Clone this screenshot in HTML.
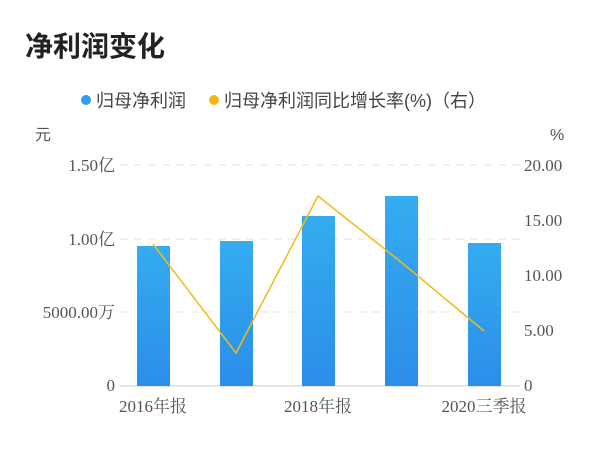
<!DOCTYPE html>
<html><head><meta charset="utf-8"><style>
body{margin:0;background:#fff;width:600px;height:446px;overflow:hidden;font-family:"Liberation Sans","Noto Sans CJK SC",sans-serif;}
</style></head><body>
<svg width="600" height="446" xmlns="http://www.w3.org/2000/svg" font-family="Liberation Sans, Noto Sans CJK SC, sans-serif">
<defs><linearGradient id="g" x1="0" y1="0" x2="0" y2="1"><stop offset="0" stop-color="#34acf0"/><stop offset="1" stop-color="#2b8ee9"/></linearGradient></defs>
<text x="25" y="56" font-size="28" font-weight="bold" fill="#222">净利润变化</text>
<circle cx="86" cy="100" r="5" fill="#2f9ef0"/>
<text x="96" y="107" font-size="18" fill="#444">归母净利润</text>
<circle cx="214" cy="100" r="5" fill="#f5b916"/>
<text x="224" y="107" font-size="18" fill="#444">归母净利润同比增长率(%)（右）</text>
<text x="35" y="140" font-size="16" fill="#555">元</text>
<text x="550" y="140" font-size="16" fill="#555">%</text>
<g stroke="#e6e6e6" stroke-dasharray="8,6" stroke-width="1">
<line x1="120" y1="165" x2="520" y2="165"/><line x1="120" y1="239" x2="520" y2="239"/><line x1="120" y1="312" x2="520" y2="312"/>
</g>
<line x1="120" y1="386" x2="520" y2="386" stroke="#ccc"/>
<g font-size="17" fill="#555" text-anchor="end" font-family="Liberation Serif, Noto Serif CJK SC, serif">
<text x="115" y="171">1.50亿</text><text x="115" y="245">1.00亿</text><text x="115" y="318">5000.00万</text><text x="115" y="391">0</text>
</g>
<g font-size="17" fill="#555" text-anchor="start" font-family="Liberation Serif, serif">
<text x="524" y="171">20.00</text><text x="524" y="226">15.00</text><text x="524" y="281">10.00</text><text x="524" y="336">5.00</text><text x="524" y="391">0</text>
</g>
<g fill="url(#g)">
<rect x="137" y="246" width="33" height="140"/><rect x="220" y="241" width="33" height="145"/><rect x="302" y="216" width="33" height="170"/><rect x="385" y="196" width="33" height="190"/><rect x="468" y="243" width="33" height="143"/>
</g>
<polyline points="153,244 236,353 318,196 401,262 484,331" fill="none" stroke="#f5b916" stroke-width="1.5"/>
<g font-size="17" fill="#555" text-anchor="middle" font-family="Liberation Serif, Noto Serif CJK SC, serif">
<text x="153" y="412">2016年报</text><text x="318" y="412">2018年报</text><text x="484" y="412">2020三季报</text>
</g>
</svg>
</body></html>
